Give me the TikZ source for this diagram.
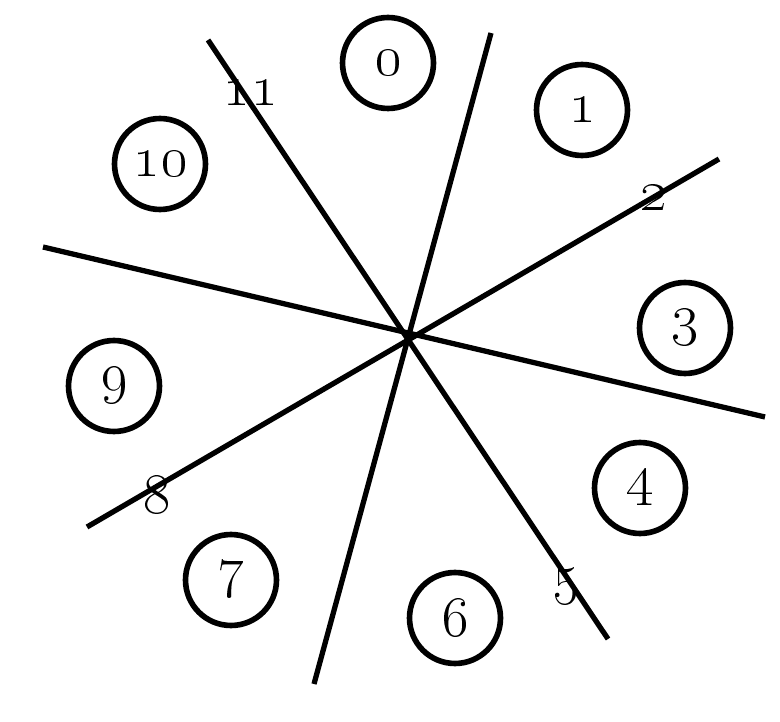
\RequirePackage{fix-cm}
\documentclass[tikz,border=0pt]{standalone}
\begin{document}
\begin{tikzpicture}[x=0.02cm,y=-0.02cm,
  numfont/.style={font=\fontsize{33}{39}\selectfont},
  ring/.style={draw,circle,line width=3.2pt,minimum size=1.82cm,inner sep=0pt,numfont},
  lbl/.style={inner sep=0pt,numfont},
  ray/.style={line width=3pt,line cap=butt}]
\useasboundingbox (0,0) rectangle (780,722);
% line end points
\coordinate (a1) at (208,40);
\coordinate (a2) at (608,639);
\coordinate (b1) at (491,33);
\coordinate (b2) at (314,684);
\coordinate (c1) at (719,159);
\coordinate (c2) at (87,527);
\coordinate (d1) at (43,247);
\coordinate (d2) at (765,417);
\draw[ray] (a1) -- (a2);
\draw[ray] (b1) -- (b2);
\draw[ray] (c1) -- (c2);
\draw[ray] (d1) -- (d2);
% circled numbers
\node[ring] (n0) at (388,63) {\oldstylenums{0}};
\node[ring] (n1) at (582,110) {\oldstylenums{1}};
\node[ring] (n10) at (160,164) {\oldstylenums{10}};
\node[ring] (n3) at (685,328) {\oldstylenums{3}};
\node[ring] (n9) at (114,386) {\oldstylenums{9}};
\node[ring] (n4) at (640,488) {\oldstylenums{4}};
\node[ring] (n7) at (231,580) {\oldstylenums{7}};
\node[ring] (n6) at (455,618) {\oldstylenums{6}};
% labels on lines
\node[lbl] (l11) at (250,93) {\oldstylenums{11}};
\node[lbl] (l2) at (654,198) {\oldstylenums{2}};
\node[lbl] (l8) at (157,495) {\oldstylenums{8}};
\node[lbl] (l5) at (566,587) {\oldstylenums{5}};
\end{tikzpicture}
\end{document}
